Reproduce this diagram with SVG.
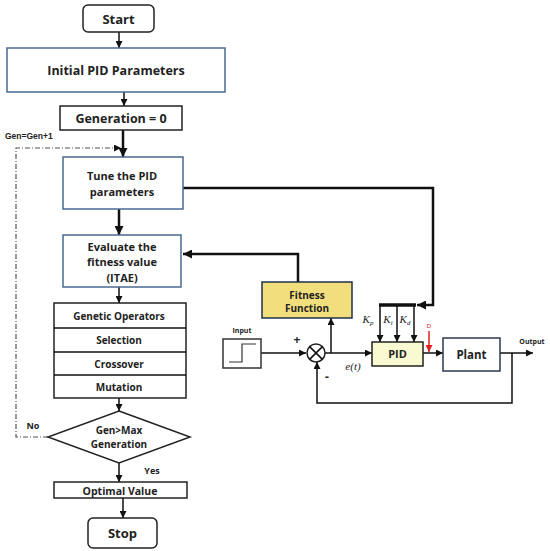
<svg xmlns="http://www.w3.org/2000/svg" width="550" height="551" viewBox="0 0 550 551">
<defs>
<marker id="ah" viewBox="0 0 10 10" refX="10" refY="5" markerWidth="7" markerHeight="7" markerUnits="userSpaceOnUse" orient="auto"><path d="M0,0 L10,5 L0,10 z" fill="#111"/></marker>
<marker id="ahr" viewBox="0 0 10 10" refX="10" refY="5" markerWidth="7" markerHeight="7" markerUnits="userSpaceOnUse" orient="auto"><path d="M0,0 L10,5 L0,10 z" fill="#e02020"/></marker>
<marker id="ahb" viewBox="0 0 10 10" refX="10" refY="5" markerWidth="9" markerHeight="9" markerUnits="userSpaceOnUse" orient="auto"><path d="M0,0 L10,5 L0,10 z" fill="#111"/></marker>
</defs>
<style>
.t{font-family:"Open Sans","Liberation Sans",sans-serif;font-weight:700;fill:#222;text-anchor:middle}
.s{font-family:"Liberation Sans",sans-serif;font-weight:700;fill:#222}
.m{font-family:"Liberation Serif",serif;font-style:italic;fill:#222}
.bx{fill:#fff;stroke:#222;stroke-width:1.5}
.bb{fill:#fff;stroke:#4a6a90;stroke-width:1.5}
.ln{fill:none;stroke:#111;stroke-width:1.5}
.lt{fill:none;stroke:#111;stroke-width:2.5}
</style>
<rect width="550" height="551" fill="#fff"/>
<g id="connectors">
<path class="ln" d="M119,32 V48" marker-end="url(#ah)"/>
<path class="ln" d="M124,92 V106" marker-end="url(#ah)"/>
<path class="lt" d="M123,130 V157" marker-end="url(#ahb)"/>
<path class="lt" d="M119,209 V235" marker-end="url(#ahb)"/>
<path class="ln" d="M119,287 V303" marker-end="url(#ah)"/>
<path class="ln" d="M119,398 V411" marker-end="url(#ah)"/>
<path class="ln" d="M119,463 V482" marker-end="url(#ah)"/>
<path class="ln" d="M123,498 V518" marker-end="url(#ah)"/>
<path fill="none" stroke="#555" stroke-width="1.2" stroke-dasharray="5,2,1,2" d="M48,437 H16 V148 H121" marker-end="url(#ah)"/>
<path class="lt" d="M183,188 H433 V305 H417" marker-end="url(#ahb)"/>
<path fill="none" stroke="#111" stroke-width="3.5" d="M379,305 H416"/>
<path class="ln" d="M380,305 V342" marker-end="url(#ah)"/>
<path class="ln" d="M397,305 V342" marker-end="url(#ah)"/>
<path class="ln" d="M414,305 V342" marker-end="url(#ah)"/>
<path class="lt" d="M298,282 V254 H183" marker-end="url(#ahb)"/>
<path class="ln" d="M261,353 H306" marker-end="url(#ah)"/>
<path class="ln" d="M325,353 H372" marker-end="url(#ah)"/>
<path class="ln" d="M331,353 V318" marker-end="url(#ah)"/>
<path class="ln" d="M423,353 H443" marker-end="url(#ah)"/>
<path class="ln" d="M500,353 H533" marker-end="url(#ah)"/>
<path class="ln" d="M512,353 V403 H317 V362" marker-end="url(#ah)"/>
<path fill="none" stroke="#e02020" stroke-width="1.5" d="M429,331 V352" marker-end="url(#ahr)"/>
</g>
<g id="start"><rect class="bx" x="83" y="5" width="71" height="27" rx="5"/><text class="t" x="118.5" y="24" font-size="13">Start</text></g>
<g id="init"><rect class="bb" x="7" y="48" width="218" height="44"/><text class="t" x="116" y="75" font-size="12.5">Initial PID Parameters</text></g>
<g id="gen0"><rect class="bx" x="60" y="106" width="122" height="24"/><text class="t" x="121" y="123" font-size="12.5">Generation = 0</text></g>
<text class="s" x="5" y="139" font-size="8.5" font-weight="400">Gen=Gen+1</text>
<g id="tune"><rect class="bb" x="63" y="157" width="120" height="52"/><text class="t" x="122" y="180" font-size="11">Tune the PID</text><text class="t" x="122" y="195.5" font-size="11">parameters</text></g>
<g id="eval"><rect class="bb" x="63" y="235" width="118" height="52"/><text class="t" x="122" y="250.5" font-size="11">Evaluate the</text><text class="t" x="122" y="266" font-size="11">fitness value</text><text class="t" x="122" y="281.5" font-size="11">(ITAE)</text></g>
<g id="genops"><rect class="bx" x="54" y="303" width="132" height="95"/>
<path class="ln" d="M54,328 H186 M54,352 H186 M54,375 H186"/>
<text class="t" x="119" y="320" font-size="10">Genetic Operators</text>
<text class="t" x="119" y="344" font-size="10">Selection</text>
<text class="t" x="119" y="368" font-size="10">Crossover</text>
<text class="t" x="119" y="391" font-size="10">Mutation</text></g>
<g id="decision"><path class="bx" d="M119,411 L190,437 L119,463 L48,437 z"/><text class="t" x="119" y="434" font-size="10" font-weight="600">Gen&gt;Max</text><text class="t" x="119" y="448" font-size="10" font-weight="600">Generation</text></g>
<text class="t" x="33" y="429" font-size="9">No</text>
<text class="t" x="152" y="474" font-size="9">Yes</text>
<g id="optimal"><rect class="bx" x="54" y="482" width="133" height="16"/><text class="t" x="120" y="494.5" font-size="10.5">Optimal Value</text></g>
<g id="stop"><rect class="bx" x="88" y="518" width="69" height="30" rx="5"/><text class="t" x="122.5" y="538" font-size="13">Stop</text></g>
<g id="fitness"><rect x="262" y="282" width="90" height="36" fill="#f2de7c" stroke="#1e3048" stroke-width="1.5"/><text class="t" x="307" y="299" font-size="10">Fitness</text><text class="t" x="307" y="312" font-size="10">Function</text></g>
<g id="input"><text class="t" x="242" y="333" font-size="7">Input</text><rect fill="#fff" stroke="#333" stroke-width="1.5" x="223" y="339" width="38" height="29"/><path fill="none" stroke="#333" stroke-width="1.2" d="M229,362 H242 V344 H256"/></g>
<text class="t" x="297" y="344" font-size="12">+</text>
<text class="t" x="327" y="381" font-size="12">-</text>
<g id="sum"><circle cx="316" cy="353" r="9" fill="#fff" stroke="#222" stroke-width="1.5"/><path class="ln" d="M309.6,346.6 L322.4,359.4 M322.4,346.6 L309.6,359.4"/></g>
<text class="m" x="353" y="370" font-size="11" text-anchor="middle">e(t)</text>
<text class="m" x="368" y="323" font-size="11" text-anchor="middle">K<tspan font-size="7" dy="2">p</tspan></text>
<text class="m" x="388" y="323" font-size="11" text-anchor="middle">K<tspan font-size="7" dy="2">i</tspan></text>
<text class="m" x="405" y="323" font-size="11" text-anchor="middle">K<tspan font-size="7" dy="2">d</tspan></text>
<text x="429" y="328" font-size="6" fill="#e02020" font-family="Liberation Sans,sans-serif" text-anchor="middle">D</text>
<g id="pid"><rect x="372" y="342" width="51" height="24" fill="#fafad2" stroke="#222" stroke-width="1.5"/><text class="t" x="397.5" y="358" font-size="11">PID</text></g>
<g id="plant"><rect x="443" y="338" width="57" height="33" fill="#fff" stroke="#2a3850" stroke-width="1.5"/><text class="t" x="471.5" y="358.5" font-size="11.5">Plant</text></g>
<text class="t" x="532" y="344" font-size="7">Output</text>
</svg>
